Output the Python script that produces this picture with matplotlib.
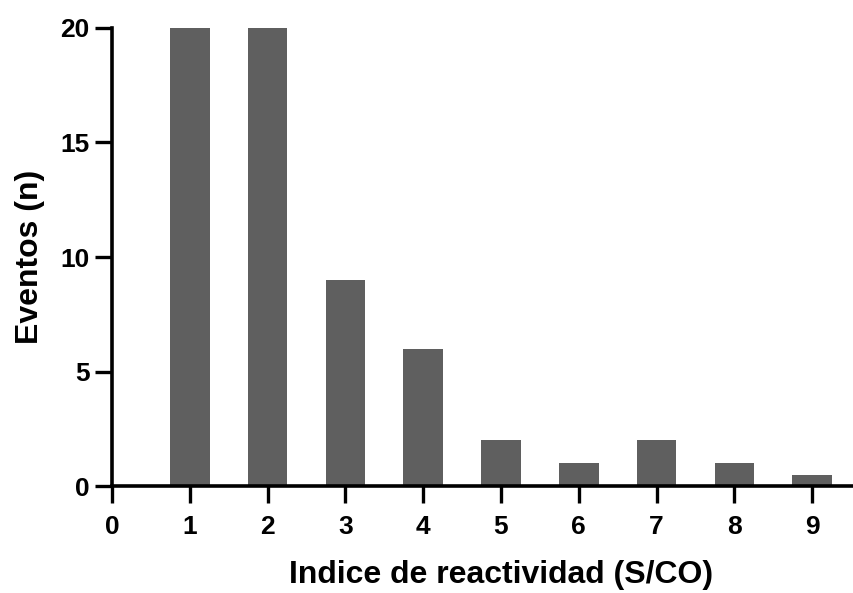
import matplotlib as mpl
mpl.use('Agg')
import matplotlib.pyplot as plt

plt.rcParams['font.family'] = ['Liberation Sans', 'DejaVu Sans']
plt.rcParams['font.weight'] = 'bold'

indice = [1, 2, 3, 4, 5, 6, 7, 8, 9]
eventos = [20, 20, 9, 6, 2, 1, 2, 1, 0.5]
xticks = [0, 1, 2, 3, 4, 5, 6, 7, 8, 9]
yticks = [0, 5, 10, 15, 20]

fig = plt.figure(figsize=(8.54, 5.93), dpi=100)
# the x axis runs to 10, a little past the right edge of the picture
ax = fig.add_axes([0.1311, 0.1804, 0.911, 0.7724])

ax.bar(indice, eventos, width=0.51, color='#5f5f5f', zorder=2)

ax.set_xlim(0, 10)
ax.set_ylim(0, 20)
ax.set_xticks(xticks)
ax.set_yticks(yticks)

for side in ['top', 'right']:
    ax.spines[side].set_visible(False)
for side in ['left', 'bottom']:
    ax.spines[side].set_linewidth(2.6)
    ax.spines[side].set_zorder(3)

ax.tick_params(axis='both', length=12, width=2.4, labelsize=19)
ax.tick_params(axis='x', pad=9)
ax.tick_params(axis='y', pad=4)
for lab in ax.get_xticklabels() + ax.get_yticklabels():
    lab.set_fontweight('bold')

ax.set_xlabel('Indice de reactividad (S/CO)', fontsize=23, fontweight='bold', labelpad=15)
ax.set_ylabel('Eventos (n)', fontsize=23, fontweight='bold', labelpad=11)

plt.savefig('out.png', dpi=100)
